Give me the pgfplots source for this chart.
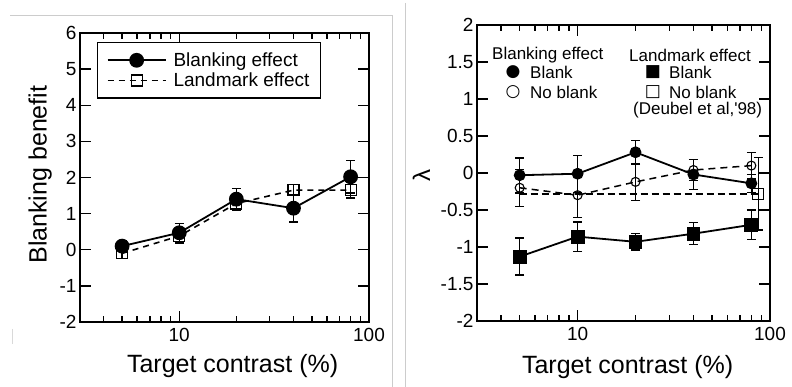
\documentclass[border=0pt]{standalone}
\usepackage{fontspec}
\setmainfont{Liberation Sans}
\newfontfamily\symfont{DejaVu Sans}
\usepackage{pgfplots}
\pgfplotsset{compat=1.18}
\usepackage{pgfplotstable}

% Left panel
\pgfplotstableread{
x y e
5 0.10 0.15
10 0.47 0.25
20 1.40 0.30
40 1.15 0.38
80 2.02 0.45
}\Lblank
\pgfplotstableread{
x y e
5 -0.10 0.15
10 0.38 0.20
20 1.28 0.20
40 1.65 0.15
80 1.65 0.22
}\Llandmark
% Right panel
\pgfplotstableread{
x y e
5 -0.03 0.23
10 -0.01 0.25
20 0.28 0.16
40 -0.02 0.20
80 -0.14 0.12
}\Rcircblank
\pgfplotstableread{
x y e
5 -0.20 0.25
10 -0.30 0.30
20 -0.12 0.25
40 0.04 0.14
80 0.10 0.18
}\Rcircnoblank
\pgfplotstableread{
x y e
5 -1.13 0.25
10 -0.86 0.20
20 -0.93 0.11
40 -0.82 0.15
80 -0.70 0.20
}\Rsqblank
\pgfplotstableread{
x y e
5 -0.28 0
87 -0.28 0.49
}\Rsqnoblank

\begin{document}
\begin{tikzpicture}
\useasboundingbox (0pt,0pt) rectangle (792pt,387pt);
\draw[black!20, line width=0.8pt] (10pt,372pt) -- (392pt,372pt) -- (392pt,0pt);
\draw[black!20, line width=0.8pt] (405pt,384pt) -- (405pt,0pt);
\draw[black!15, line width=0.8pt] (12pt,58pt) -- (12pt,43pt);

\begin{axis}[
  at={(80pt,65pt)}, anchor=south west, width=289pt, height=289pt,
  xmode=log, scale only axis, xmin=3, xmax=100,
  xtick={10,100}, xticklabels={10,100},
  minor xtick={4,5,6,7,8,9,20,30,40,50,60,70,80,90},
  tick align=inside, major tick length=11pt, minor tick length=6pt,
  tick style={line width=1.4pt, black},
  axis line style={line width=1.8pt},
  ticklabel style={font=\fontsize{19}{19}\selectfont},
  xticklabel style={yshift=-3pt},
  /pgf/number format/assume math mode=true,
  clip=false,
  ymin=-2, ymax=6, ytick={-2,-1,...,6},
  xlabel={Target contrast (\%)},
  ylabel={Blanking benefit},
  ylabel style={font=\fontsize{25}{25}\selectfont, at={(axis description cs:-0.138,0.51)}, anchor=center},
  xlabel style={font=\fontsize{25}{25}\selectfont, at={(axis description cs:0.528,-0.175)}, anchor=base},
  legend style={at={(axis description cs:0.059,0.969)}, anchor=north west,
    draw=black, line width=1.4pt, font=\fontsize{19}{19}\selectfont,
    inner xsep=9pt, inner ysep=8pt, row sep=1pt,
    /tikz/every odd column/.append style={column sep=5pt}},
  legend cell align=left,
  reverse legend,
  legend image code/.code={\draw[mark repeat=2,mark phase=2,#1] plot coordinates {(0pt,0pt) (29pt,0pt) (58pt,0pt)};},
]
\addplot[black, line width=1.6pt, dash pattern=on 6pt off 5pt,
  mark=square, mark size=5.5pt, mark options={solid, line width=1.2pt},
  error bars/.cd, y dir=both, y explicit,
  error bar style={solid, line width=1.4pt, black},
  error mark options={solid, rotate=90, mark size=4.5pt, line width=1.4pt, black}
  ] table[x=x, y=y, y error=e] {\Llandmark};
\addplot[black, line width=1.8pt, mark=*, mark size=6.5pt, mark options={solid},
  error bars/.cd, y dir=both, y explicit,
  error bar style={solid, line width=1.4pt, black},
  error mark options={solid, rotate=90, mark size=4.5pt, line width=1.4pt, black}
  ] table[x=x, y=y, y error=e] {\Lblank};
\legend{Landmark effect, Blanking effect}
\end{axis}

\begin{axis}[
  at={(477pt,66pt)}, anchor=south west, width=293pt, height=296pt,
  xmode=log, scale only axis, xmin=3, xmax=100,
  xtick={10,100}, xticklabels={10,100},
  minor xtick={4,5,6,7,8,9,20,30,40,50,60,70,80,90},
  tick align=inside, major tick length=11pt, minor tick length=6pt,
  tick style={line width=1.4pt, black},
  axis line style={line width=1.8pt},
  ticklabel style={font=\fontsize{19}{19}\selectfont},
  xticklabel style={yshift=-3pt},
  /pgf/number format/assume math mode=true,
  clip=false,
  ymin=-2, ymax=2, ytick={-2,-1.5,...,2},
  yticklabel style={/pgf/number format/fixed},
  xlabel={Target contrast (\%)},
  ylabel={λ},
  ylabel style={font=\fontsize{24}{24}\selectfont, at={(axis description cs:-0.19,0.493)}, anchor=center},
  xlabel style={font=\fontsize{25}{25}\selectfont, at={(axis description cs:0.514,-0.179)}, anchor=base},
]
\addplot[black, line width=2.4pt, dash pattern=on 7pt off 4pt,
  mark=square, mark size=5.5pt, mark indices={2}, mark options={solid, line width=1.2pt, fill=white},
  error bars/.cd, y dir=both, y explicit,
  error bar style={solid, line width=1.4pt, black},
  error mark options={solid, rotate=90, mark size=4.5pt, line width=1.4pt, black}
  ] table[x=x, y=y, y error=e] {\Rsqnoblank};
\addplot[black, line width=1.5pt, dash pattern=on 7pt off 5pt,
  mark=o, mark size=4.5pt, mark options={solid, line width=1.1pt},
  error bars/.cd, y dir=both, y explicit,
  error bar style={solid, line width=1.4pt, black},
  error mark options={solid, rotate=90, mark size=4.5pt, line width=1.4pt, black}
  ] table[x=x, y=y, y error=e] {\Rcircnoblank};
\addplot[black, line width=1.8pt, mark=*, mark size=5pt,
  error bars/.cd, y dir=both, y explicit,
  error bar style={solid, line width=1.4pt, black},
  error mark options={solid, rotate=90, mark size=4.5pt, line width=1.4pt, black}
  ] table[x=x, y=y, y error=e] {\Rcircblank};
\addplot[black, line width=1.8pt, mark=square*, mark size=6pt,
  error bars/.cd, y dir=both, y explicit,
  error bar style={solid, line width=1.4pt, black},
  error mark options={solid, rotate=90, mark size=4.5pt, line width=1.4pt, black}
  ] table[x=x, y=y, y error=e] {\Rsqblank};
\end{axis}

\begin{scope}[font=\fontsize{17}{17}\selectfont]
\node[anchor=west, inner sep=0pt] at (492pt,332pt) {Blanking effect};
\node[anchor=west, inner sep=0pt] at (629pt,332pt) {Landmark effect};
\node[inner sep=0pt] at (513pt,315pt) {\symfont ●};
\node[anchor=west, inner sep=0pt] at (530pt,315pt) {Blank};
\node[inner sep=0pt] at (513pt,295pt) {\symfont ○};
\node[anchor=west, inner sep=0pt] at (530pt,295pt) {No blank};
\node[inner sep=0pt] at (653pt,315pt) {\symfont ■};
\node[anchor=west, inner sep=0pt] at (669pt,315pt) {Blank};
\node[inner sep=0pt] at (653pt,295pt) {\symfont □};
\node[anchor=west, inner sep=0pt] at (669pt,295pt) {No blank};
\node[anchor=west, inner sep=0pt] at (633pt,277pt) {(Deubel et al,\textquotesingle98)};
\end{scope}
\end{tikzpicture}
\end{document}
